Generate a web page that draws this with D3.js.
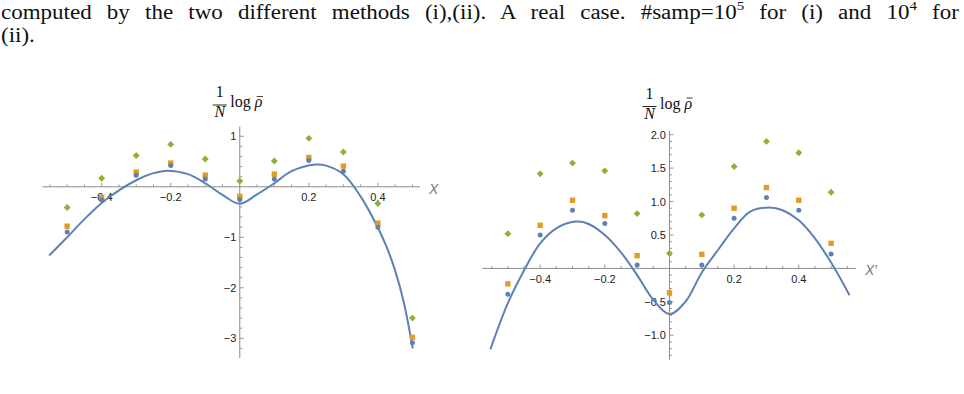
<!DOCTYPE html>
<html><head><meta charset="utf-8">
<script src="https://cdn.jsdelivr.net/npm/d3@7/dist/d3.min.js"></script>
<style>
body{margin:0;background:#fff;width:964px;height:394px;overflow:hidden;position:relative}
#cap{position:absolute;left:1px;top:1px;width:833px;transform:scaleX(1.15);transform-origin:0 0;font-family:'Liberation Serif','DejaVu Serif',serif;font-size:20px;line-height:23px;color:#111}
#cap div.l1{text-align:justify;text-align-last:justify}
#cap sup{font-size:13px;position:relative;top:-1px;line-height:0}
svg{position:absolute;left:0;top:0}
</style></head>
<body>
<div id="cap"><div class="l1">computed by the two different methods (i),(ii). A real case. #samp=10<sup>5</sup> for (i) and 10<sup>4</sup> for</div><div>(ii).</div></div>
<svg id="chart" width="964" height="394"></svg>
<script>
// ---------- data ----------
const sampleX = [-0.5,-0.4,-0.3,-0.2,-0.1,0,0.1,0.2,0.3,0.4,0.5];

const leftGreen  = [-0.41,0.17,0.62,0.84,0.55,0.115,0.51,0.96,0.69,-0.33,-2.60];
const leftOrange = [-0.78,-0.21,0.29,0.47,0.23,-0.19,0.25,0.58,0.41,-0.72,-2.98];
const leftBlue   = [-0.895,-0.26,0.23,0.42,0.155,-0.25,0.155,0.52,0.31,-0.80,-3.09];
const leftCurveX = [-0.552,-0.5,-0.45,-0.4,-0.35,-0.3,-0.25,-0.21,-0.15,-0.1,-0.05,0,0.05,0.1,0.15,0.22,0.25,0.3,0.35,0.4,0.425,0.45,0.475,0.501];
const leftCurveY = [-1.36,-1.0,-0.64,-0.32,-0.07,0.13,0.27,0.32,0.25,0.07,-0.16,-0.335,-0.15,0.07,0.31,0.44,0.42,0.25,-0.19,-0.81,-1.185,-1.66,-2.285,-3.2];

const rightGreen  = [0.52,1.415,1.575,1.46,0.82,0.225,0.80,1.525,1.90,1.73,1.14];
const rightOrange = [-0.23,0.645,1.02,0.79,0.19,-0.365,0.21,0.90,1.21,1.02,0.375];
const rightBlue   = [-0.385,0.50,0.87,0.67,0.05,-0.51,0.05,0.75,1.06,0.87,0.215];
const rightCurveX = [-0.554,-0.5,-0.45,-0.4,-0.35,-0.29,-0.25,-0.2,-0.15,-0.1,-0.05,0,0.05,0.1,0.15,0.2,0.25,0.31,0.35,0.4,0.45,0.5,0.557];
const rightCurveY = [-1.21,-0.52,-0.03,0.375,0.60,0.70,0.665,0.50,0.24,-0.10,-0.47,-0.685,-0.495,-0.06,0.275,0.60,0.85,0.91,0.87,0.72,0.45,0.087,-0.40];

const xTickLabels = [-0.4,-0.2,0.2,0.4];
const leftYTickLabels = [1,-1,-2,-3];
const rightYTickLabels = [2.0,1.5,1.0,0.5,-0.5,-1.0];

// ---------- styling ----------
const BLUE = "#5E81B5", ORANGE = "#E19C24", GREEN = "#8FB032";
const AXIS = "#8c8c8c", LABEL = "#222";
const svg = d3.select("#chart");
const minus = s => s.replace("-", "\u2212");

function panel(cfg){
  const g = svg.append("g");
  const x = d3.scaleLinear().domain(cfg.xDom).range(cfg.xRange);
  const y = d3.scaleLinear().domain(cfg.yDom).range(cfg.yRange);
  const x0 = x(0), y0 = y(0);
  // axes
  g.append("line").attr("x1", x.range()[0]).attr("x2", x.range()[1]).attr("y1", y0).attr("y2", y0)
    .attr("stroke", AXIS).attr("stroke-width", 1);
  g.append("line").attr("x1", x0).attr("x2", x0).attr("y1", y.range()[0]).attr("y2", y.range()[1])
    .attr("stroke", AXIS).attr("stroke-width", 1);
  // x ticks (minor every 0.05)
  const xt = d3.range(Math.ceil(cfg.xDom[0]/0.05), Math.floor(cfg.xDom[1]/0.05)+1).map(i => +(i*0.05).toFixed(2));
  const isMajX = d => Math.abs(d/0.2 - Math.round(d/0.2)) < 1e-6;
  g.selectAll(".xt").data(xt.filter(v => v !== 0)).join("line")
    .attr("x1", d => x(d)).attr("x2", d => x(d))
    .attr("y1", y0).attr("y2", d => y0 - (isMajX(d) ? 4 : 2.5))
    .attr("stroke", AXIS).attr("stroke-width", 0.9);
  // y ticks
  const ys = cfg.yMinor;
  const yt = d3.range(Math.ceil(cfg.yDom[0]/ys - 1e-9), Math.floor(cfg.yDom[1]/ys + 1e-9)+1).map(i => +(i*ys).toFixed(2));
  g.selectAll(".yt").data(yt.filter(v => v !== 0)).join("line")
    .attr("y1", d => y(d)).attr("y2", d => y(d))
    .attr("x1", x0).attr("x2", d => x0 + (Math.abs(d/cfg.yMajor - Math.round(d/cfg.yMajor))<1e-6 ? 4 : 2.5))
    .attr("stroke", AXIS).attr("stroke-width", 0.9);
  // tick labels
  g.selectAll(".xl").data(xTickLabels).join("text")
    .attr("x", d => x(d)).attr("y", y0 + 14.5).attr("text-anchor", "middle")
    .attr("font-family", "Liberation Sans, Arial, sans-serif").attr("font-size", 11).attr("fill", LABEL)
    .text(d => minus(d.toFixed(1)));
  g.selectAll(".yl").data(cfg.yLabels).join("text")
    .attr("x", x0 - 3.5).attr("y", d => y(d) + 4).attr("text-anchor", "end")
    .attr("font-family", "Liberation Sans, Arial, sans-serif").attr("font-size", 11).attr("fill", LABEL)
    .text(d => minus(cfg.yFmt(d)));
  // axis names
  g.append("text").attr("x", x.range()[1] + 9).attr("y", y0 + 7)
    .attr("font-family", "Liberation Sans, Arial, sans-serif").attr("font-style", "italic")
    .attr("font-size", 14).attr("fill", "#777").text(cfg.xName);
  const lx = x0, ly = cfg.labelY;
  const lab = g.append("g").attr("font-family", "Liberation Serif, Times New Roman, serif").attr("fill", "#111");
  lab.append("text").attr("x", lx - 20).attr("y", ly - 10).attr("text-anchor", "middle").attr("font-size", 16).text("1");
  lab.append("line").attr("x1", lx - 27).attr("x2", lx - 13).attr("y1", ly - 2).attr("y2", ly - 2).attr("stroke", "#111").attr("stroke-width", 0.9);
  lab.append("text").attr("x", lx - 20).attr("y", ly + 10).attr("text-anchor", "middle").attr("font-size", 16).attr("font-style", "italic").text("N");
  const t = lab.append("text").attr("x", lx - 9.5).attr("y", ly).attr("font-size", 16);
  t.append("tspan").text("log ");
  const rho = t.append("tspan").attr("font-style", "italic").text("\u03C1");
  // bar over rho
  const bb = rho.node().getComputedTextLength();
  const tw = t.node().getComputedTextLength();
  const rx = lx - 9.5 + tw - bb;
  lab.append("line").attr("x1", rx + 2).attr("x2", rx + bb + 0.5).attr("y1", ly - 10.5).attr("y2", ly - 10.5)
    .attr("stroke", "#111").attr("stroke-width", 0.8);
  // curve
  const line = d3.line().x(d => x(d[0])).y(d => y(d[1])).curve(d3.curveCatmullRom.alpha(0.5));
  g.append("path").datum(d3.zip(cfg.curveX, cfg.curveY)).attr("d", line)
    .attr("fill", "none").attr("stroke", BLUE).attr("stroke-width", 2);
  // points
  g.selectAll(".pg").data(d3.zip(sampleX, cfg.green)).join("path")
    .attr("d", d3.symbol(d3.symbolDiamond2, 30)).attr("transform", d => `translate(${x(d[0])},${y(d[1])})`)
    .attr("fill", GREEN);
  g.selectAll(".po").data(d3.zip(sampleX, cfg.orange)).join("rect")
    .attr("x", d => x(d[0]) - 2.7).attr("y", d => y(d[1]) - 2.7).attr("width", 5.4).attr("height", 5.4)
    .attr("fill", ORANGE);
  g.selectAll(".pb").data(d3.zip(sampleX, cfg.blue)).join("circle")
    .attr("cx", d => x(d[0])).attr("cy", d => y(d[1])).attr("r", 2.5).attr("fill", BLUE);
}

panel({
  xDom: [-0.572, 0.522], xRange: [42.3, 420],
  yDom: [-3.39, 1.19], yRange: [358, 126.7],
  yMinor: 0.2, yMajor: 1, yLabels: leftYTickLabels, yFmt: d => String(d),
  xName: "X", labelY: 107,
  green: leftGreen, orange: leftOrange, blue: leftBlue,
  curveX: leftCurveX, curveY: leftCurveY
});
panel({
  xDom: [-0.579, 0.577], xRange: [482.3, 856],
  yDom: [-1.37, 2.06], yRange: [360, 130.7],
  yMinor: 0.1, yMajor: 0.5, yLabels: rightYTickLabels, yFmt: d => d.toFixed(1),
  xName: "X\u2032", labelY: 108.5,
  green: rightGreen, orange: rightOrange, blue: rightBlue,
  curveX: rightCurveX, curveY: rightCurveY
});
</script>
</body></html>
